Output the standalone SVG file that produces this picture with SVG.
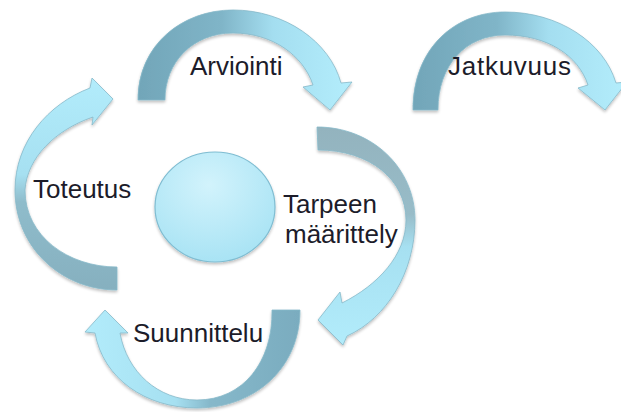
<svg xmlns="http://www.w3.org/2000/svg" width="621" height="412" viewBox="0 0 621 412">
  <style>
    .lbl { font-family: "Liberation Sans", Arial, sans-serif; font-size: 26px; fill: #1c1c2a; }
    .arr { stroke: #86b9c9; stroke-width: 0.8; filter: url(#sh); }
  </style>
  <defs>
    <filter id="sh" x="-10%" y="-10%" width="120%" height="125%">
      <feGaussianBlur in="SourceAlpha" stdDeviation="1.6"/>
      <feOffset dx="0" dy="2" result="b"/>
      <feComponentTransfer><feFuncA type="linear" slope="0.25"/></feComponentTransfer>
      <feMerge><feMergeNode/><feMergeNode in="SourceGraphic"/></feMerge>
    </filter>
    <linearGradient id="gTop" gradientUnits="userSpaceOnUse" x1="140" y1="0" x2="345" y2="0">
      <stop offset="0" stop-color="#72a6b9"/>
      <stop offset="0.4" stop-color="#80b5c8"/>
      <stop offset="0.65" stop-color="#a4def0"/>
      <stop offset="1" stop-color="#b2ecfb"/>
    </linearGradient>
    <linearGradient id="gJat" gradientUnits="userSpaceOnUse" x1="415" y1="0" x2="620" y2="0">
      <stop offset="0" stop-color="#72a6b9"/>
      <stop offset="0.4" stop-color="#80b5c8"/>
      <stop offset="0.65" stop-color="#a4def0"/>
      <stop offset="1" stop-color="#b2ecfb"/>
    </linearGradient>
    <linearGradient id="gLeft" gradientUnits="userSpaceOnUse" x1="0" y1="290" x2="0" y2="80">
      <stop offset="0" stop-color="#86b0bf"/>
      <stop offset="0.42" stop-color="#8fbccb"/>
      <stop offset="0.55" stop-color="#a6e0f1"/>
      <stop offset="1" stop-color="#b2ecfb"/>
    </linearGradient>
    <linearGradient id="gRight" gradientUnits="userSpaceOnUse" x1="0" y1="127" x2="0" y2="345">
      <stop offset="0" stop-color="#93b3be"/>
      <stop offset="0.4" stop-color="#98bcc8"/>
      <stop offset="0.55" stop-color="#a6e0f1"/>
      <stop offset="1" stop-color="#b2ecfb"/>
    </linearGradient>
    <linearGradient id="gBot" gradientUnits="userSpaceOnUse" x1="300" y1="0" x2="85" y2="0">
      <stop offset="0" stop-color="#7aacbf"/>
      <stop offset="0.42" stop-color="#86b8ca"/>
      <stop offset="0.58" stop-color="#a6e0f1"/>
      <stop offset="1" stop-color="#b2ecfb"/>
    </linearGradient>
    <radialGradient id="gCircle" cx="0.45" cy="0.3" r="0.8">
      <stop offset="0" stop-color="#d2f3fc"/>
      <stop offset="1" stop-color="#a3e1f3"/>
    </radialGradient>
  </defs>

  <g id="connectors"/>

  <g id="center">
    <ellipse cx="215" cy="207" rx="60" ry="55" fill="url(#gCircle)" stroke="#7fbdd2" stroke-width="1.2" filter="url(#sh)"/>
  </g>

  <g id="arviointi">
    <path class="arr" fill="url(#gTop)" d="M138,100 C138,45 182,10 233,10 C285,10 330,42 341,83 L352,82 L330,110 L303,87 L313,85 C303,55 272,33 233,33 C193,33 165,62 165,100 Z"/>
    <text class="lbl" x="190" y="75">Arviointi</text>
  </g>

  <g id="jatkuvuus">
    <path class="arr" fill="url(#gJat)" d="M413,110 C413,48 455,12 505,12 C558,12 604,42 616,83 L627,82 L605,110 L578,88 L588,85 C578,55 547,35 505,35 C466,35 438,65 438,110 Z"/>
    <text class="lbl" x="448" y="75" textLength="123">Jatkuvuus</text>
  </g>

  <g id="tarpeen-maarittely">
    <path class="arr" fill="url(#gRight)" d="M317,127 C372,127 415,168 415,220 C415,272 387,318 347,336 L343,345 L318,320 L340,292 L342,303 C378,285 406,255 406,220 C406,180 370,150 318,150 Z"/>
    <text class="lbl" x="283" y="213">Tarpeen</text>
    <text class="lbl" x="285" y="243">määrittely</text>
  </g>

  <g id="suunnittelu">
    <path class="arr" fill="url(#gBot)" d="M300,310 C300,368 255,408 197,408 C145,408 103,378 95,333 L85,332 L105,310 L128,333 L120,333 C127,372 158,400 197,400 C243,400 273,362 272,310 Z"/>
    <text class="lbl" x="133" y="342">Suunnittelu</text>
  </g>

  <g id="toteutus">
    <path class="arr" fill="url(#gLeft)" d="M117,290 C62,290 15,248 15,190 C15,142 48,104 90,88 L92,78 L113,99 L92,125 L93,117 C55,130 27,158 25,190 C25,236 68,267 117,267 Z"/>
    <text class="lbl" x="33" y="198">Toteutus</text>
  </g>
</svg>
